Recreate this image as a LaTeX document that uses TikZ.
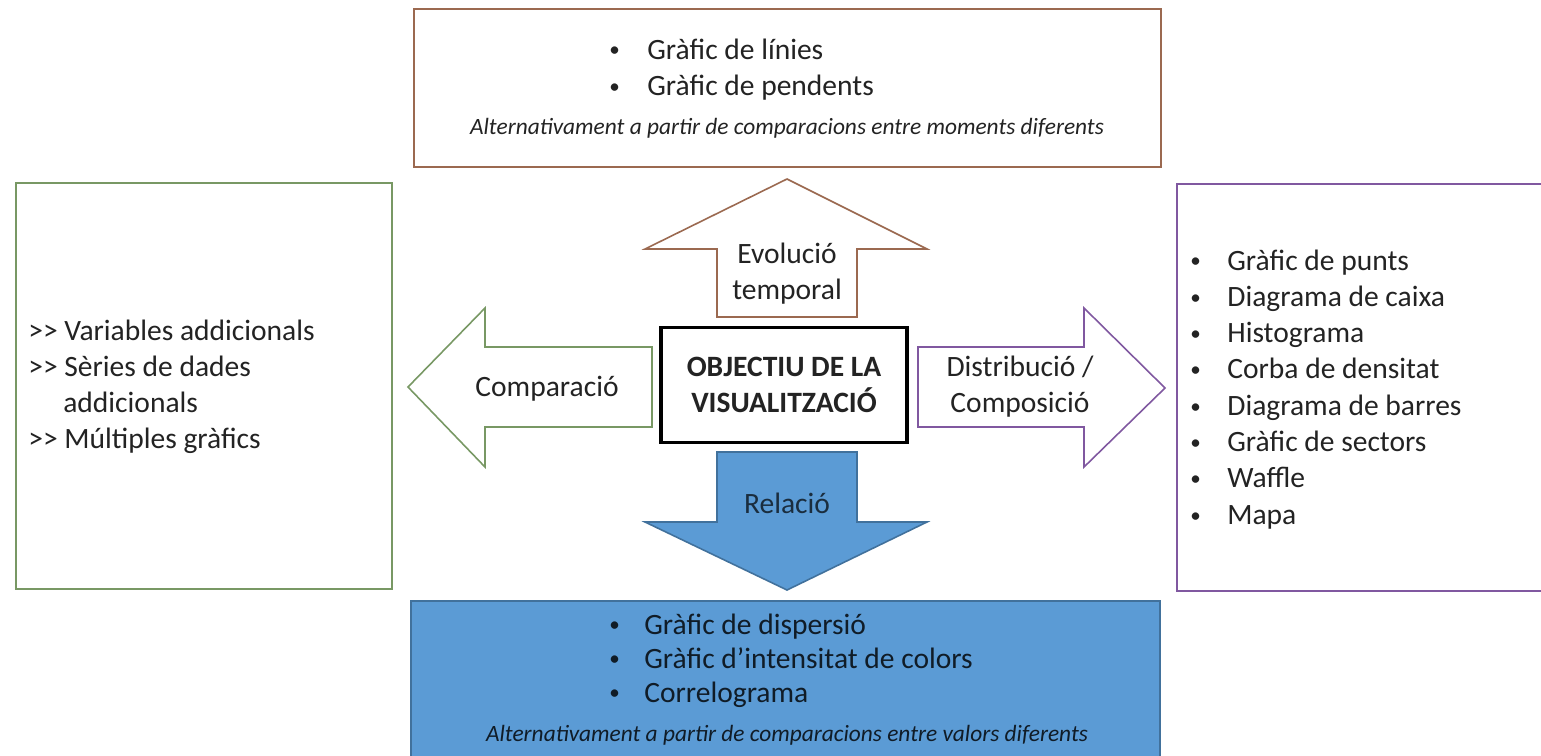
\documentclass[tikz,border=0pt]{standalone}
\usepackage{fontspec}
\setmainfont{Carlito}
\usetikzlibrary{positioning}
\definecolor{brownln}{RGB}{155,105,80}
\definecolor{greenln}{RGB}{120,152,100}
\definecolor{purpln}{RGB}{128,88,160}
\definecolor{bluefl}{RGB}{91,155,213}
\definecolor{blueln}{RGB}{65,113,156}
\definecolor{txt}{RGB}{35,35,35}
\tikzset{every node/.style={text=txt,font=\fontsize{16.8}{20.6}\selectfont}}
\newcommand{\gt}{{>}{>}}
\newcommand{\blt}{{\fontsize{12}{12}\selectfont\raisebox{1.2pt}{\textbullet}}}

\begin{document}
\begin{tikzpicture}[x=0.02cm,y=-0.02cm,
box/.style={line width=0.9pt},
lbl/.style={anchor=base west,inner sep=0pt},
note/.style={anchor=base,inner sep=0pt,font=\fontsize{13.3}{16}\selectfont\itshape},
mid/.style={align=center,inner sep=0pt}]
\useasboundingbox[fill=white] (0,0) rectangle (1541,755);
\def\dy{36.3}

%boxes round the centre
\draw[box,brownln] (414,9) rectangle (1161,167);
\draw[box,greenln] (16,183) rectangle (392,589);
\draw[box,purpln] (1177,184) rectangle (1560,591);
\draw[box,blueln,fill=bluefl] (411,601) rectangle (1160,770);

%block arrows
\draw[box,brownln,fill=white] (717,317) -- (717,249) -- (645,249) -- (787,179) -- (927,249) -- (857,249) -- (857,317) -- cycle;
\draw[box,blueln,fill=bluefl] (717,452) -- (857,452) -- (857,522) -- (927,522) -- (787,590) -- (645,522) -- (717,522) -- cycle;
\draw[box,greenln,fill=white] (652,347) -- (485,347) -- (485,308) -- (408,387) -- (485,467) -- (485,427) -- (652,427) -- cycle;
\draw[box,purpln,fill=white] (918,347) -- (1084,347) -- (1084,308) -- (1165,388) -- (1084,467) -- (1084,427) -- (918,427) -- cycle;

\node[draw=black,line width=1.8pt,fill=white,minimum width=246*0.02cm,minimum height=115*0.02cm,align=center,font=\fontsize{16.8}{20.6}\selectfont\bfseries] (obj) at (784,385) {OBJECTIU DE LA\\VISUALITZACIÓ};
\node[mid] (evo) at (787,274) {Evolució\\temporal};
\node[mid,text=blueln!40!black] (rel) at (787,503) {Relació};
\node[mid] (comp) at (547,389) {Comparació};
\node[mid] (dist) at (1020,387) {Distribució /\\Composició};

%top box
\foreach \t [count=\i from 0] in {Gràfic de línies,Gràfic de pendents}{
	\node[lbl] (t\i) at (647,59+\i*\dy) {\t};
	\node[lbl] at (609,59+\i*\dy) {\blt};
}
\node[note] (tn) at (787,134) {Alternativament a partir de comparacions entre moments diferents};

%bottom box
\foreach \t [count=\i from 0] in {Gràfic de dispersió,Gràfic d’intensitat de colors,Correlograma}{
	\node[lbl,text=blueln!25!black] (b\i) at (644,634+\i*34) {\t};
	\node[lbl,text=blueln!25!black] at (609,634+\i*34) {\blt};
}
\node[note,text=blueln!25!black] (bn) at (787,741) {Alternativament a partir de comparacions entre valors diferents};

%left box
\node[lbl] (l0) at (28,340) {\gt{} Variables addicionals};
\node[lbl] (l1) at (28,340+\dy) {\gt{} Sèries de dades};
\node[lbl] (l2) at (63,340+2*\dy) {addicionals};
\node[lbl] (l3) at (28,340+3*\dy) {\gt{} Múltiples gràfics};

%right box
\foreach \t [count=\i from 0] in {Gràfic de punts,Diagrama de caixa,Histograma,Corba de densitat,Diagrama de barres,Gràfic de sectors,Waffle,Mapa}{
	\node[lbl] (r\i) at (1227,270+\i*\dy) {\t};
	\node[lbl] at (1190,270+\i*\dy) {\blt};
}
\end{tikzpicture}
\end{document}
